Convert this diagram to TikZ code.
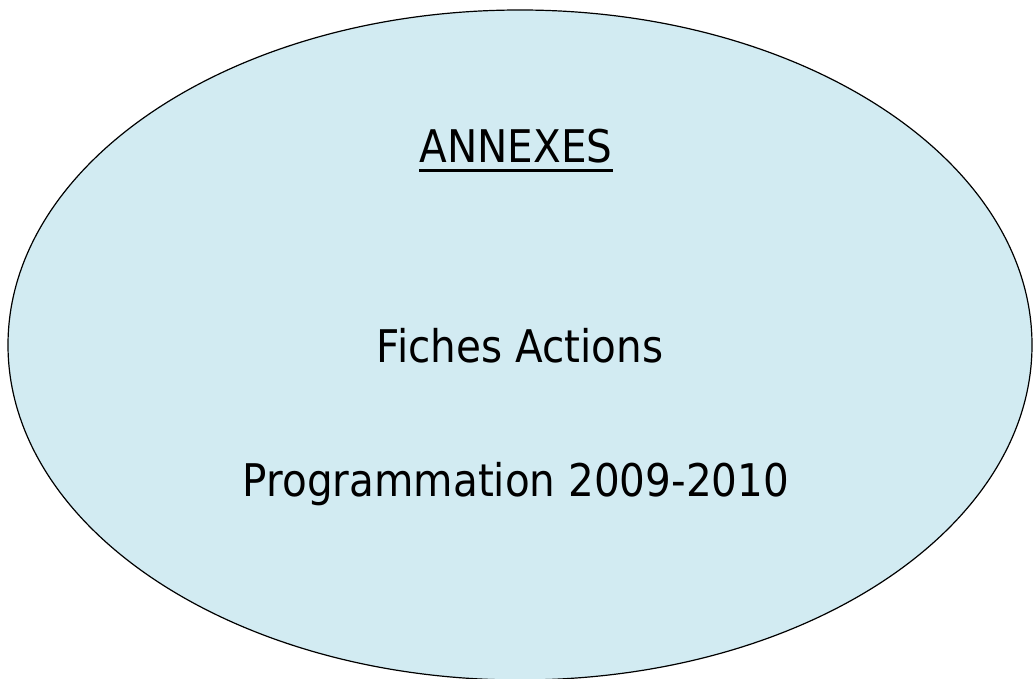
\documentclass[tikz,border=0pt]{standalone}
\usepackage{fontspec}
\setmainfont{DejaVu Sans}[FakeStretch=0.9]
\usepackage{tikz}
\definecolor{paleblue}{RGB}{210,235,242}
\tikzset{
    caption/.style={anchor=base,inner sep=0pt,font=\fontsize{45}{54}\selectfont}
}

\begin{document}
\begin{tikzpicture}[x=1pt,y=-1pt]
    \useasboundingbox (0,0) rectangle (1033,679);
    \draw[fill=paleblue,line width=1.2pt] (520,345) ellipse [x radius=512,y radius=335];
    \node[caption] (annexes) at (516,163) {ANNEXES};
    \draw[line width=3pt] ([yshift=-8pt]annexes.base west) -- ([yshift=-8pt]annexes.base east);
    \node[caption] (fiches) at (520,362) {Fiches Actions};
    \node[caption] (prog) at (516,496) {Programmation 2009-2010};
\end{tikzpicture}
\end{document}
